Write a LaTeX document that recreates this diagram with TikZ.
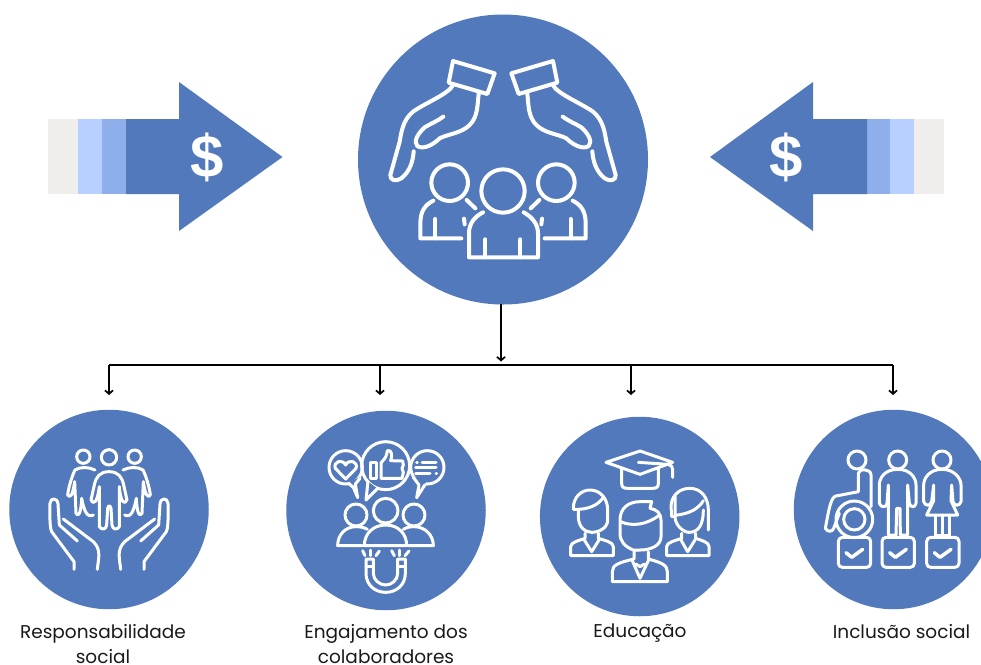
\documentclass[tikz,border=0pt]{standalone}
\usepackage{fontspec}
\setmainfont{Poppins}
\newfontfamily\dollarfont{Liberation Sans}
\usetikzlibrary{arrows.meta}
\definecolor{mainblue}{HTML}{5279BB}
\definecolor{barpale}{HTML}{EFEEEC}
\definecolor{barlight}{HTML}{B8D0FF}
\definecolor{barmid}{HTML}{8FAEEC}
\tikzset{
  disc/.style={circle,fill=mainblue,draw=none,inner sep=0pt,minimum size=#1},
  wire/.style={black,line width=1.7pt},
  feed/.style={wire,-{Straight Barb[length=3.5pt,width=8pt,line width=1.7pt]}},
  icon/.style={white,line width=#1,line cap=round,line join=round},
  lbl/.style={font=\fontsize{18.5}{25}\selectfont,align=center,text=black!90,inner sep=0pt},
  usd/.style={font=\dollarfont\bfseries\fontsize{60}{60}\selectfont,text=white,inner sep=0pt},
  z/.style n args={2}{shift={(#1,#2)},x=1pt/3,y=-1pt/3},
}
\newcommand{\hubside}{%
  \draw (285,153) -- (410,190) -- (388,252) -- (272,218) -- cycle;
  \draw (285,225) .. controls (275,250) and (200,280) .. (165,305) .. controls (135,330) and (130,365) .. (125,395) -- (97,495) .. controls (95,512) and (115,515) .. (130,505) .. controls (155,485) and (165,455) .. (167,424);
  \draw (362,252) .. controls (358,285) and (360,320) .. (335,345) .. controls (310,370) and (270,372) .. (245,385) .. controls (225,405) and (195,420) .. (178,408) .. controls (165,395) and (180,370) .. (200,352) .. controls (220,340) and (240,332) .. (256,320);
  \draw (275,518) circle (55);
  \draw (226,572) .. controls (200,585) and (187,605) .. (187,640) -- (187,685) -- (310,685);
  \draw (232,627) -- (232,685);
  \draw (326,570) -- (352,595);
  \draw (318,626) -- (320,643);
}
\newcommand{\carehalf}{%
  \draw (222,478) -- (222,455) -- (155,365) .. controls (148,350) and (150,310) .. (150,280) .. controls (152,262) and (172,262) .. (174,282) -- (178,345) -- (232,393);
  \draw (190,327) -- (280,395) .. controls (305,420) and (295,445) .. (292,478);
  \draw (250,140) circle (20);
  \draw (285,180) .. controls (265,170) and (240,170) .. (225,180) .. controls (215,200) and (205,235) .. (203,255) .. controls (210,265) and (218,258) .. (224,215) -- (228,310) .. controls (235,322) and (243,312) .. (245,265) .. controls (252,300) and (260,325) .. (280,315);
}
\begin{document}
\begin{tikzpicture}[x=1pt,y=-1pt]
\useasboundingbox (0,0) rectangle (981,664);
% arrows
\begin{scope}
 \fill[barpale] (48,119) rectangle (78,194);
 \fill[barlight] (78,119) rectangle (102,194);
 \fill[barmid] (102,119) rectangle (126,194);
 \fill[mainblue] (126,119) -- (179,119) -- (179,82) -- (282.5,157) -- (179,231) -- (179,194) -- (126,194) -- cycle;
 \node[usd] (usdL) at (207.5,157) {\$};
 \fill[barpale] (914,119) rectangle (944,194);
 \fill[barlight] (890,119) rectangle (914,194);
 \fill[barmid] (867,119) rectangle (890,194);
 \fill[mainblue] (867,119) -- (813,119) -- (813,82) -- (710,157) -- (813,231) -- (813,194) -- (867,194) -- cycle;
 \node[usd] (usdR) at (786.5,157) {\$};
\end{scope}
% discs
\node[disc=290pt] (hub) at (503,159.5) {};
\node[disc=199.5pt] (c1) at (109,509.5) {};
\node[disc=199.5pt] (c2) at (386,510.5) {};
\node[disc=199.5pt] (c3) at (639.7,516.5) {};
\node[disc=199.5pt] (c4) at (893.5,509.5) {};
% connectors
\coordinate (hubfoot) at (501,304);
\coordinate (busin) at (501,361.5);
\coordinate (busL) at (109,365);
\coordinate (busR) at (893,365);
\coordinate (drop2) at (380,365);
\coordinate (drop3) at (631,365);
\coordinate (end1) at (109,395);
\coordinate (end2) at (380,395);
\coordinate (end3) at (631,395);
\coordinate (end4) at (893,395);
\draw[feed] (hubfoot) -- (busin);
\draw[wire] (busL) -- (busR);
\draw[feed] (busL) -- (end1);
\draw[feed] (drop2) -- (end2);
\draw[feed] (drop3) -- (end3);
\draw[feed] (busR) -- (end4);
% hub icon
\begin{scope}[z={358}{10},icon=4pt]
 \hubside
 \draw (435,543) circle (65);
 \draw (375,607) .. controls (350,620) and (333,640) .. (333,670) -- (333,742) -- (540,742) -- (540,670) .. controls (540,640) and (520,620) .. (497,607);
 \draw (382,688) -- (382,742);
 \draw (487,688) -- (487,742);
\end{scope}
\begin{scope}[z={358}{10},shift={(870,0)},xscale=-1,icon=4pt]
 \hubside
\end{scope}
% icon 1
\begin{scope}[z={0}{410},icon=3pt]
 \carehalf
 \draw (327,142) circle (23);
 \draw (327,185) .. controls (300,185) and (288,200) .. (283,225) -- (273,270) .. controls (280,285) and (292,280) .. (298,230) -- (298,350) .. controls (305,360) and (318,360) .. (320,345) -- (323,295) .. controls (326,285) and (330,285) .. (333,295) -- (336,345) .. controls (338,360) and (352,360) .. (358,350) -- (358,230) .. controls (362,280) and (374,285) .. (381,270) -- (371,225) .. controls (366,200) and (354,185) .. (327,185);
\end{scope}
\begin{scope}[z={0}{410},shift={(654,0)},xscale=-1,icon=3pt]
 \carehalf
\end{scope}
% icon 2
\begin{scope}[z={280}{410},icon=3pt]
 \draw (197,172) circle (50);
 \draw (442,172) circle (50);
 \fill[mainblue,draw=none] (210,215) -- (233,263) -- (242,200) -- cycle;
 \fill[mainblue,draw=none] (400,198) -- (410,263) -- (438,218) -- cycle;
 \draw (208,222) -- (220,232) -- (233,263) -- (226,222) -- (240,205);
 \draw (400,202) -- (417,225) -- (410,263) -- (435,224);
 \draw (317,167) circle (72);
 \fill[mainblue,draw=none] (264,214) -- (258,270) -- (292,236) -- cycle;
 \draw (264,214) -- (258,270) -- (292,236);
 \draw (197,207) -- (166,175) .. controls (158,155) and (188,145) .. (197,165) .. controls (206,145) and (236,155) .. (228,175) -- cycle;
 \draw (270,157) rectangle (290,205);
 \draw (303,205) -- (303,158) .. controls (318,145) and (320,135) .. (322,122) .. controls (335,118) and (338,135) .. (332,152) -- (368,153) -- (370,165) -- (366,175) -- (370,187) -- (366,205) -- cycle;
 \draw (410,157) -- (412,157);
 \draw (426,157) -- (468,157);
 \draw (407,173) -- (468,173);
 \draw (407,190) -- (450,190);
 \draw (468,190) -- (470,190);
 \draw (228,315) circle (33);
 \draw (317,302) circle (37);
 \draw (402,315) circle (33);
 \draw (253,407) .. controls (253,370) and (280,345) .. (317,345) .. controls (354,345) and (380,370) .. (380,407) -- cycle;
 \draw (247,407) -- (173,407) .. controls (173,375) and (195,350) .. (228,350) .. controls (240,350) and (252,352) .. (262,358);
 \draw (385,407) -- (460,407) .. controls (460,375) and (435,350) .. (402,350) .. controls (390,350) and (380,352) .. (370,358);
 \draw (258,447) -- (258,490) .. controls (258,525) and (285,547) .. (317,547) .. controls (349,547) and (376,525) .. (376,490) -- (376,447) -- (353,447) -- (353,490) .. controls (353,510) and (335,525) .. (317,525) .. controls (299,525) and (280,510) .. (280,490) -- (280,447) -- cycle;
 \draw (258,470) -- (280,470);
 \draw (353,470) -- (376,470);
 \draw (248,422) -- (255,437);
 \draw (270,420) -- (270,437);
 \draw (298,423) -- (288,437);
 \draw (335,422) -- (343,437);
 \draw (357,420) -- (357,437);
 \draw (387,423) -- (375,437);
\end{scope}
% icon 3
\begin{scope}[z={535}{410},icon=3pt]
 \draw (213,157) -- (315,123) -- (413,157) -- (315,193) -- cycle;
 \draw (260,175) -- (260,220) .. controls (260,232) and (266,235) .. (278,235) -- (352,235) .. controls (364,235) and (370,232) .. (370,220) -- (370,175);
 \draw (310,157) -- (398,163) .. controls (408,165) and (413,170) .. (413,178) -- (413,202);
 \draw (295,420) .. controls (270,410) and (255,395) .. (255,370) -- (255,330) .. controls (255,295) and (280,275) .. (315,275) -- (350,275) -- (345,295) .. controls (365,298) and (378,310) .. (378,330) -- (378,380) .. controls (378,405) and (350,420) .. (316,420) .. controls (308,420) and (300,422) .. (295,420);
 \draw (257,335) .. controls (290,350) and (335,345) .. (372,316);
 \draw (297,425) -- (297,447) .. controls (250,458) and (232,465) .. (232,485) -- (232,515) -- (397,515) -- (397,485) .. controls (397,465) and (380,458) .. (340,447) -- (340,425);
 \draw (292,452) -- (315,505) -- (340,452);
 \draw (303,462) -- (315,470) -- (328,462);
 \draw (115,295) .. controls (115,260) and (140,240) .. (165,240) .. controls (195,240) and (218,265) .. (218,300) -- (218,330) .. controls (218,355) and (190,367) .. (170,367) .. controls (150,367) and (130,350) .. (130,320) -- (130,298);
 \draw (115,298) .. controls (160,300) and (190,285) .. (205,262);
 \draw (150,370) -- (150,385) .. controls (130,392) and (107,397) .. (107,410) -- (107,437) -- (235,437) -- (235,410) .. controls (235,397) and (212,392) .. (190,385) -- (190,370);
 \draw (148,390) -- (170,425) -- (192,390);
 \draw (408,300) .. controls (405,260) and (430,235) .. (465,235) .. controls (500,235) and (520,265) .. (520,300) -- (520,360);
 \draw (408,300) -- (408,320) -- (420,320);
 \draw (420,255) -- (420,320) .. controls (420,345) and (445,367) .. (462,367) .. controls (490,367) and (505,345) .. (505,300);
 \draw (420,316) .. controls (460,312) and (490,298) .. (505,272);
 \draw (440,370) -- (440,385) .. controls (420,392) and (395,397) .. (395,410) -- (395,437) -- (522,437) -- (522,410) .. controls (522,397) and (502,392) .. (482,385) -- (482,370);
 \draw (438,390) -- (458,425) -- (480,390);
\end{scope}
% icon 4
\begin{scope}[z={781}{410},icon=3pt]
 \draw (228,150) circle (27);
 \draw (350,150) circle (27);
 \draw (483,150) circle (27);
 \foreach \bx in {172,303,437} {
  \draw[rounded corners=4pt] (\bx,382) rectangle ++(97,90);
  \draw[line width=3.5pt] (\bx+23,428) -- (\bx+40,442) -- (\bx+73,418);
 }
 \draw (220,328) circle (55);
 \draw (220,328) circle (32);
 \draw (270,290) -- (270,195) .. controls (270,175) and (232,175) .. (232,190) -- (232,245) -- (165,258) .. controls (150,262) and (145,290) .. (133,355) .. controls (140,368) and (155,365) .. (158,355) -- (175,310);
 \draw (350,178) .. controls (310,178) and (295,205) .. (295,225) -- (295,280) .. controls (300,295) and (318,292) .. (318,280) -- (322,225) -- (322,375) -- (345,375) -- (347,295) -- (357,295) -- (358,375) -- (380,375) -- (380,225) -- (385,280) .. controls (388,292) and (402,295) .. (405,280) -- (405,225) .. controls (405,205) and (390,178) .. (350,178);
 \draw (483,178) .. controls (445,178) and (428,205) .. (428,225) -- (428,275) .. controls (433,290) and (448,288) .. (452,275) -- (458,225) -- (458,272) -- (437,315) -- (530,315) -- (510,272) -- (512,225) -- (516,275) .. controls (520,288) and (535,290) .. (540,275) -- (540,225) .. controls (540,205) and (520,178) .. (483,178);
 \draw (462,315) -- (462,375) -- (505,375) -- (505,315);
 \draw (483,315) -- (483,375);
\end{scope}
% labels
\node[lbl,anchor=north] (t1) at (103,624) {Responsabilidade\\social};
\node[lbl,anchor=north] (t2) at (386,624) {Engajamento dos\\colaboradores};
\node[lbl,anchor=north] (t3) at (640,624) {Educação};
\node[lbl,anchor=north] (t4) at (901.5,624) {Inclusão social};
\end{tikzpicture}
\end{document}
